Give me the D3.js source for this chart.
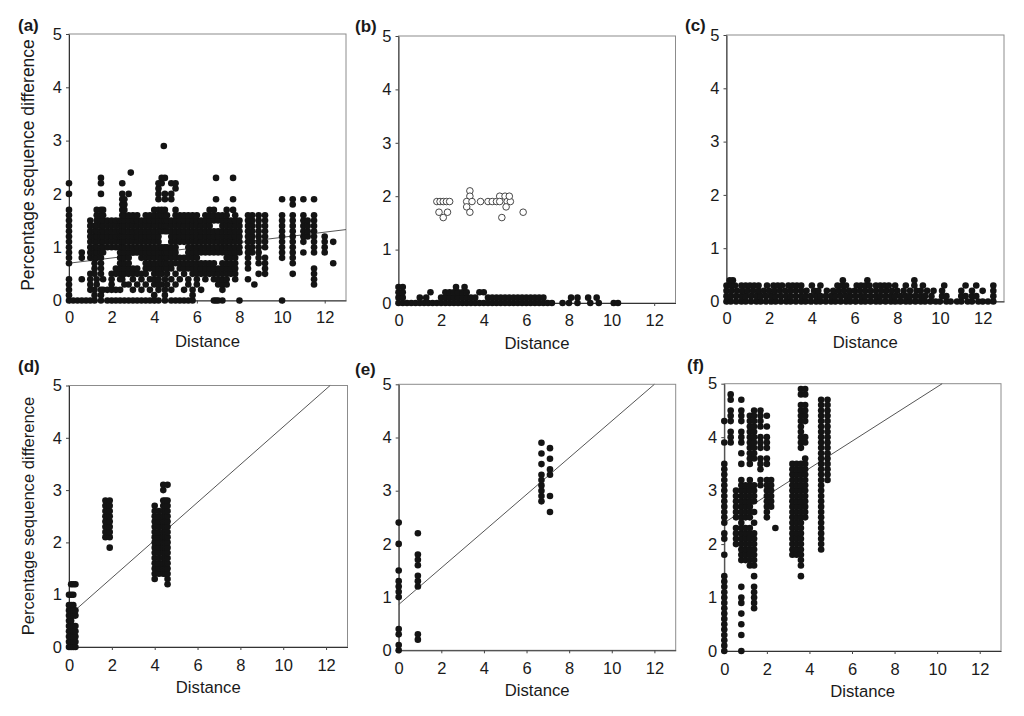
<!DOCTYPE html>
<html>
<head>
<meta charset="utf-8">
<script src="https://cdn.jsdelivr.net/npm/d3@7/dist/d3.min.js"></script>
<style>
  body { margin: 0; background: #fff; }
  text { font-family: "Liberation Sans", Arial, Helvetica, sans-serif; fill: #1a1a1a; }
</style>
</head>
<body>
<svg id="chart" width="1024" height="716"></svg>
<script>
// tick labels
var xTicks = [0, 2, 4, 6, 8, 10, 12];
var yTicks = [0, 1, 2, 3, 4, 5];

// columns: [distance, [sequence difference in tenths of a percent]]
var colsA = [
  [0.0, [0,1,2,3,4,7,8,9,10,11,12,13,14,15,16,17,20,22]],
  [0.2, [0]], [0.4, [0]],
  [0.6, [0,4,8,9]],
  [0.8, [0]],
  [1.0, [0,2,3,4,5,8,9,10,11,12,13,14,15]],
  [1.2, [0,1,2,5,6,7,8,9,10,11,12,13,14]],
  [1.3, [3,4,8,9,10,11,12,13,14,15,16,17]],
  [1.5, [0,1,2,5,6,7,8,9,10,11,12,13,14,15,16,17,20,22,23]],
  [1.6, [2,4,9,10,11,12,13,14,15,16,17]],
  [1.8, [0,2,10,11,12,13,14,15]],
  [2.0, [0,2,3,4,5,10,11,12,13,14,15]],
  [2.2, [0,2,5,6,10,11,12,13,14,15]],
  [2.4, [0,2,4,5,6,7,8,9,10,11,12,13,14,15]],
  [2.5, [4,5,6,7,8,9,10,11,12,13,14,15,16,17,18,19,20,22]],
  [2.6, [0,3,5,6,7,8,9,10,11,12,13,14,15,16,17,18,19]],
  [2.8, [0,3,5,6,7,8,9,10,11,12,13,14,15,16,20]],
  [2.9, [24]],
  [3.0, [0,2,4,5,6,9,10,11,12,13,14,15,16]],
  [3.2, [0,3,5,6,9,10,11,12,13,14,15,16]],
  [3.4, [0,2,4,5,8,9,10,11,12,13,14,15]],
  [3.6, [0,3,5,6,7,8,9,10,11,12,13,14,15,16]],
  [3.8, [0,2,4,6,7,8,9,10,11,12,13,14,15,16]],
  [4.0, [0,1,3,4,5,6,7,8,9,10,11,12,13,14,15,16,17]],
  [4.2, [0,2,3,4,5,6,7,8,9,10,11,12,13,14,15,16,17,19,20,21,22]],
  [4.35, [3,5,6,7,8,9,10,13,14,15,16,17,22,23]],
  [4.45, [29]],
  [4.5, [0,1,2,4,6,7,8,9,10,13,14,15,16,17,19,20,23]],
  [4.6, [3,5,6,7,8,9,10,13,14,15,16]],
  [4.8, [0,2,4,6,7,8,9,10,11,12,13,14,15,19,20,22]],
  [5.0, [0,3,5,7,8,9,10,11,12,13,14,15,16,17,21,22]],
  [5.2, [0,4,6,7,8,11,12,13,14,15,16]],
  [5.4, [0,2,5,6,7,8,11,12,13,14,15,16]],
  [5.6, [0,3,4,6,7,8,9,10,11,12,13,14,15,16]],
  [5.8, [0,1,2,5,6,7,8,9,10,11,12,13,14,15,16]],
  [6.0, [3,4,5,6,7,8,9,10,11,12,13,14,15,16]],
  [6.2, [2,5,6,7,9,10,11,12,13,14,15]],
  [6.4, [4,5,6,7,9,10,11,12,13,14,15,16]],
  [6.6, [5,6,7,9,10,11,12,13,14,15,16,17]],
  [6.8, [0,4,5,6,7,9,10,11,12,13,15,16,17]],
  [6.9, [0,19,23]],
  [7.0, [0,3,4,5,6,9,10,11,12,13,15,16]],
  [7.2, [0,2,3,4,5,6,7,9,10,11,12,13,14,15,16]],
  [7.4, [3,4,5,6,7,8,9,10,11,12,13,14,15,16,17]],
  [7.6, [5,6,7,8,9,10,11,12,13,14,15]],
  [7.7, [17,19,23]],
  [7.8, [4,5,6,7,8,9,10,11,12,13,14,15,16]],
  [8.0, [0,9,10,11,12,13,14,15]],
  [8.4, [4,6,7,8,9,10,11,12,13,14,15,16]],
  [8.6, [9,10,11,12,13,14,15,16]],
  [8.7, [3]],
  [8.9, [5,7,8,9,10,11,12,13,14,15,16]],
  [9.2, [5,6,7,8,10,11,12,13,14,15,16]],
  [10.0, [0,8,9,10,11,12,13,14,15,16,19]],
  [10.5, [5,7,8,9,10,11,12,13,14,15,16,18,19]],
  [11.0, [9,11,12,13,14,15,16,19]],
  [11.2, [12,13,14,15]],
  [11.5, [3,4,5,6,9,10,11,12,13,14,15,16,19]],
  [12.0, [9,10,11,12]],
  [12.4, [7,11]]
];

// rows: [sequence difference, [distances]]
var rowsB = [
  [0.0, [0,0.2,0.4,0.6,0.8,1,1.2,1.4,1.6,1.8,2,2.2,2.4,2.6,2.8,3,3.2,3.4,3.6,3.8,4,4.2,4.4,4.6,4.8,5,5.2,5.4,5.6,5.8,6,6.2,6.4,6.6,6.8,7,7.2,7.7,8,8.4,9,9.4,10.1,10.3]],
  [0.1, [0,0.2,1,1.3,2,2.2,2.4,2.6,2.8,3,3.2,3.4,3.6,4.2,4.4,4.6,4.8,5,5.2,5.4,5.6,5.8,6,6.2,6.4,6.6,6.8,8.1,8.4,8.9,9.3]],
  [0.2, [0,0.2,1.5,2.2,2.4,2.6,2.8,3,3.2,3.8,4]],
  [0.3, [0,0.2,2.7,3.1]]
];
var openDistB = [1.8,1.95,2.1,2.25,2.4,1.9,2.3,2.1,3.35,3.35,3.2,3.45,3.2,3.35,3.85,4.2,4.4,4.6,4.75,4.75,5.0,5.1,5.25,5.05,4.85,5.85,5.2];
var openDiffB = [1.9,1.9,1.9,1.9,1.9,1.7,1.7,1.6,2.1,2.0,1.9,1.9,1.8,1.7,1.9,1.9,1.9,1.9,2.0,1.9,2.0,1.9,1.9,1.8,1.6,1.7,2.0];

var rowsC = [
  [0.0, [0,0.2,0.45,0.7,0.9,1.15,1.4,1.6,1.85,2.1,2.3,2.55,2.8,3,3.25,3.5,3.7,3.95,4.2,4.4,4.65,4.9,5.1,5.35,5.6,5.8,6.05,6.3,6.5,6.75,7,7.2,7.45,7.7,7.9,8.15,8.4,8.6,8.85,9.1,9.3,9.55,9.8,10,10.3,10.5,10.8,11,11.3,11.5,11.8,12,12.25,12.5]],
  [0.1, [0,0.2,0.45,0.7,0.9,1.15,1.4,1.6,1.85,2.1,2.3,2.55,2.8,3,3.25,3.5,3.7,3.95,4.2,4.4,4.65,4.9,5.1,5.35,5.6,5.8,6.05,6.3,6.5,6.75,7,7.2,7.45,7.7,7.9,8.15,8.4,8.6,8.85,9.1,9.3,9.6,10.1,10.3,11,11.2,11.5,11.7,12.5]],
  [0.2, [0,0.25,0.5,0.75,1,1.25,1.5,1.75,2,2.25,2.5,2.75,3,3.25,3.5,3.75,4.1,4.3,4.7,5,5.25,5.5,5.75,6,6.25,6.5,6.75,7,7.25,7.5,7.75,8,8.3,8.6,8.9,9.1,9.4,9.7,10.1,11,11.5,12,12.5]],
  [0.3, [0,0.2,0.4,0.7,0.9,1.1,1.3,1.5,1.9,2.2,2.4,2.6,2.9,3.1,3.3,3.5,4,4.4,5.2,5.4,5.6,6.1,6.3,6.5,6.7,7,7.2,7.4,7.6,7.9,8.4,8.8,9.2,10.2,11.2,11.7,12.5]],
  [0.4, [0.15,0.3,5.45,6.6,8.8]]
];

var colsD = [
  [0.0, [0,1,2,3,4,5,6,7,8,10]],
  [0.1, [0,1,2,3,4,5,6,7,8,10,12]],
  [0.2, [0,1,2,3,4,6,7,8,10,12]],
  [0.3, [0,1,2,3,4,6,7,12]],
  [1.7, [21,22,23,24,25,26,27,28]],
  [1.8, [22,23,24,25,26]],
  [1.9, [19,21,22,23,24,25,26,27,28]],
  [4.0, [13,14,15,16,17,18,19,20,21,22,23,24,25,26,27]],
  [4.2, [14,15,16,17,18,19,20,21,22,23,24,25,26]],
  [4.4, [14,15,16,17,18,19,20,21,22,23,24,25,26,27,28,30,31]],
  [4.5, [14,15,16,17,18,19,20,21,22,23,24,25,26,27,28]],
  [4.6, [12,13,14,15,16,17,18,19,20,21,22,23,24,25,26,27,28,31]]
];

var colsE = [
  [0.0, [0,1,3,4,10,11,12,13,15,20,24]],
  [0.9, [2,3,12,13,14,16,17,18,22]],
  [6.7, [28,29,30,31,32,33,35,37,39]],
  [7.1, [26,29,33,34,36,38]]
];

var colsF = [
  [0.0, [0,1,2,3,4,5,6,7,8,9,10,11,12,13,14,18,21,22,24,25,26,27,28,29,30,31,32,33,34,35,39,43]],
  [0.3, [39,40,41,43,44,45,47,48]],
  [0.55, [20,21,22,23,25,26,27,28,29,30]],
  [0.8, [0,3,5,7,9,10,12,17,18,19,20,21,22,23,24,25,26,27,28,29,30,31,32,35,37,39,40,41,43,44,45,47]],
  [1.0, [17,18,19,20,21,22,23,25,26,27,28,29,30,31]],
  [1.2, [16,17,18,19,20,21,22,23,25,26,27,28,29,30,31,32,35,36,37,38,39,40,41,42,43,44]],
  [1.4, [8,9,10,11,12,14,16,17,18,19,20,21,22,24,26,28,29,30,31,36,37,38,39,40,41,42,43,44,45]],
  [1.7, [31,32,34,35,36,38,39,40,42,43,44,45]],
  [2.0, [25,26,27,28,29,30,31,32,35,36,38,39,40,42,44]],
  [2.2, [27,28,29,30,31,32]],
  [2.4, [23]],
  [3.2, [18,19,20,21,22,23,24,25,26,27,28,29,30,31,32,33,34,35]],
  [3.4, [18,19,20,21,22,23,24,25,26,27,28,29,30,31,32,33,34,35]],
  [3.6, [14,16,17,18,19,20,21,22,23,24,25,26,27,28,29,30,31,32,33,34,35,38,39,40,41,42,43,44,45,46,48,49]],
  [3.8, [25,26,27,28,29,30,31,32,33,34,35,36,39,40,43,44,45,46,48,49]],
  [4.55, [19,20,21,22,23,24,25,26,27,28,29,30,31,32,33,34,35,36,37,38,39,40,41,42,43,44,45,46,47]],
  [4.85, [32,33,34,35,36,37,38,39,40,41,42,43,44,45,46,47]]
];

// fitted lines: [intercept, slope]
var fitA = [0.70, 0.0485];
var fitD = [0.60, 0.361];
var fitE = [0.86, 0.345];
var fitF = [2.40, 0.254];

function fromCols(cols) {
  var pts = [];
  cols.forEach(function(c) {
    c[1].forEach(function(t) { pts.push({d: c[0], v: t / 10}); });
  });
  return pts;
}
function fromRows(rows) {
  var pts = [];
  rows.forEach(function(r) {
    r[1].forEach(function(dist) { pts.push({d: dist, v: r[0]}); });
  });
  return pts;
}

// plot box of each panel: left, right, top, bottom
var panels = [
  {tag: "(a)", box: [69, 346, 34, 300.5], tagAt: [18, 31], pts: fromCols(colsA), fit: fitA, padX: 8,
   ylab: {mid: 165, size: 17.5}},
  {tag: "(b)", box: [398.5, 675.5, 36, 303], tagAt: [355, 32], pts: fromRows(rowsB), fit: null, padX: 8,
   open: openDistB.map(function(dd, i) { return {d: dd, v: openDiffB[i]}; })},
  {tag: "(c)", box: [726.5, 1004, 35, 301.5], tagAt: [685, 31], pts: fromRows(rowsC), fit: null, padX: 8},
  {tag: "(d)", box: [69, 347.5, 385.5, 647], tagAt: [18, 372], pts: fromCols(colsD), fit: fitD, padX: 9,
   ylab: {mid: 516, size: 16.6}},
  {tag: "(e)", box: [398.7, 675.7, 384.3, 650.3], tagAt: [355, 375], pts: fromCols(colsE), fit: fitE, padX: 9},
  {tag: "(f)", box: [724.3, 1001, 383.7, 651], tagAt: [687, 371], pts: fromCols(colsF), fit: fitF, padX: 9}
];

var svg = d3.select("#chart");

panels.forEach(function(p) {
  var x = d3.scaleLinear().domain([0, 13]).range([p.box[0], p.box[1]]);
  var y = d3.scaleLinear().domain([0, 5]).range([p.box[3], p.box[2]]);
  var g = svg.append("g");

  // grey frame round the plot
  g.append("rect")
    .attr("x", x(0)).attr("y", y(5))
    .attr("width", x(13) - x(0)).attr("height", y(0) - y(5))
    .attr("fill", "none").attr("stroke", "#8c8c8c").attr("stroke-width", 1);

  var xAxis = g.append("g")
    .attr("transform", "translate(0," + y(0) + ")")
    .call(d3.axisBottom(x).tickValues(xTicks).tickFormat(d3.format("d"))
      .tickSize(3).tickSizeOuter(0).tickPadding(p.padX));
  var yAxis = g.append("g")
    .attr("transform", "translate(" + x(0) + ",0)")
    .call(d3.axisLeft(y).tickValues(yTicks).tickFormat(d3.format("d"))
      .tickSize(3).tickSizeOuter(0).tickPadding(4));
  [xAxis, yAxis].forEach(function(a) {
    a.select(".domain").attr("stroke", "#333");
    a.selectAll(".tick line").attr("stroke", "#444");
    a.selectAll("text").attr("font-size", 16.5).attr("fill", "#1a1a1a")
      .attr("font-family", "'Liberation Sans', Arial, sans-serif");
  });

  // fitted regression line
  if (p.fit) {
    var b = p.fit[0], m = p.fit[1];
    var xEnd = Math.min(13, (5 - b) / m);
    g.append("line")
      .attr("x1", x(0)).attr("y1", y(b))
      .attr("x2", x(xEnd)).attr("y2", y(b + m * xEnd))
      .attr("stroke", "#555").attr("stroke-width", 1);
  }

  g.append("g").selectAll("circle")
    .data(p.pts)
    .enter()
    .append("circle")
    .attr("cx", function(d) { return x(d.d); })
    .attr("cy", function(d) { return y(d.v); })
    .attr("r", 3.3)
    .attr("fill", "#141414");

  if (p.open) {
    g.append("g").selectAll("circle")
      .data(p.open)
      .enter()
      .append("circle")
      .attr("cx", function(d) { return x(d.d); })
      .attr("cy", function(d) { return y(d.v); })
      .attr("r", 3.3)
      .attr("fill", "#fff")
      .attr("stroke", "#333")
      .attr("stroke-width", 0.9);
  }

  g.append("text")
    .attr("x", (x(0) + x(13)) / 2)
    .attr("y", y(0) + 46)
    .attr("text-anchor", "middle")
    .attr("font-size", 16.7)
    .text("Distance");

  if (p.ylab) {
    g.append("text")
      .attr("transform", "translate(34," + p.ylab.mid + ") rotate(-90)")
      .attr("text-anchor", "middle")
      .attr("font-size", p.ylab.size)
      .text("Percentage sequence difference");
  }

  g.append("text")
    .attr("x", p.tagAt[0]).attr("y", p.tagAt[1])
    .attr("font-size", 17)
    .attr("font-weight", "bold")
    .text(p.tag);
});
</script>
</body>
</html>
